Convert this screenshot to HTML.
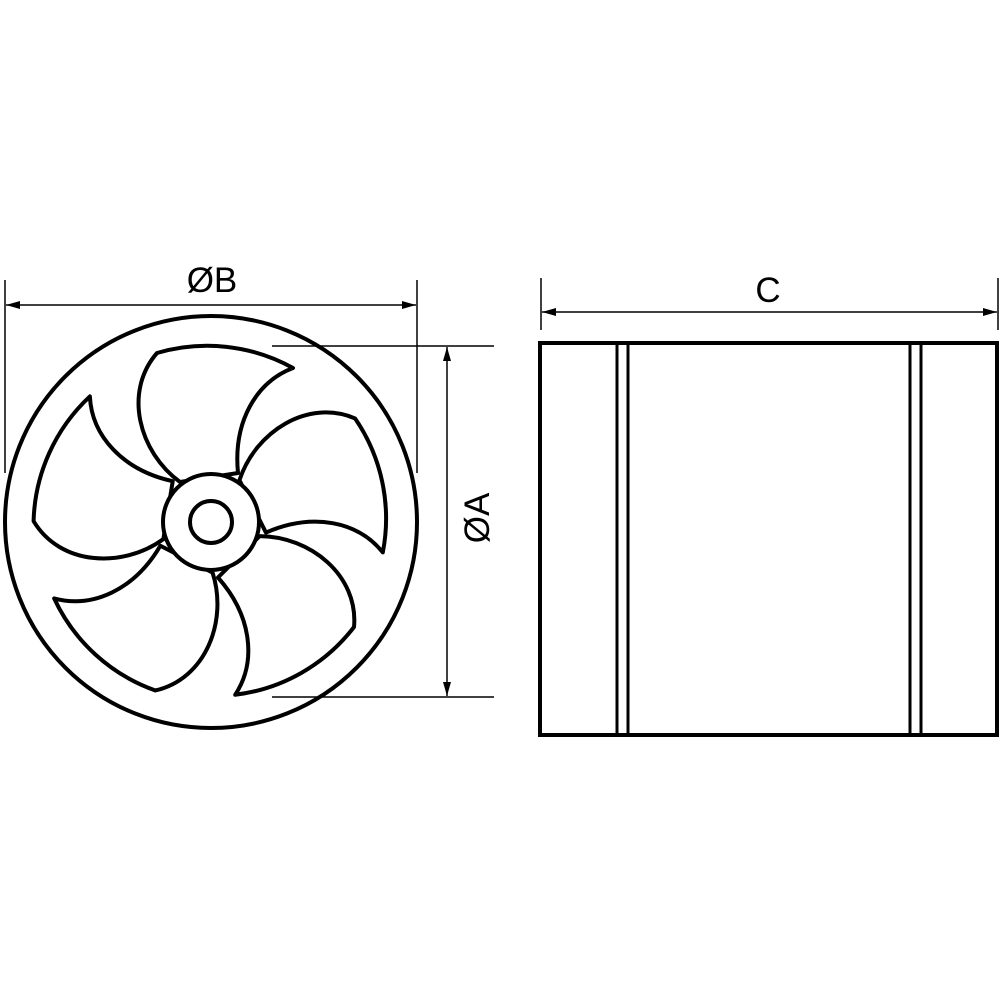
<!DOCTYPE html>
<html><head><meta charset="utf-8"><style>html,body{margin:0;padding:0;background:#fff}svg{display:block}</style></head>
<body>
<svg width="1000" height="1000" viewBox="0 0 1000 1000" xmlns="http://www.w3.org/2000/svg">
<defs>
<marker id="ar" viewBox="0 0 14 10" refX="14" refY="5" markerWidth="14" markerHeight="10" markerUnits="userSpaceOnUse" orient="auto-start-reverse"><path d="M0,1 L14,5 L0,9 Z" fill="#000"/></marker>
</defs>
<circle cx="211" cy="522" r="206" fill="none" stroke="#000" stroke-width="4"/>
<g transform="translate(211,522)" fill="#fff" stroke="#000" stroke-width="4" stroke-linejoin="round">
<g id="bl"><path d="M-31,-40 C-72,-70 -88,-130 -54,-169 A177 177 0 0 1 82,-154 C45,-140 22,-100 27,-49 Z"/></g>
<use href="#bl" transform="rotate(72)"/>
<use href="#bl" transform="rotate(144)"/>
<use href="#bl" transform="rotate(216)"/>
<use href="#bl" transform="rotate(288)"/>
<circle r="48"/>
<circle r="21"/>
</g>
<g stroke="#000" stroke-width="1.5" fill="none">
<line x1="5" y1="280" x2="5" y2="473"/>
<line x1="417" y1="280" x2="417" y2="473"/>
<line x1="6" y1="305" x2="416" y2="305" marker-start="url(#ar)" marker-end="url(#ar)"/>
<line x1="272" y1="346" x2="494" y2="346"/>
<line x1="272" y1="697" x2="494" y2="697"/>
<line x1="447" y1="347" x2="447" y2="696" marker-start="url(#ar)" marker-end="url(#ar)"/>
<line x1="541" y1="278" x2="541" y2="330"/>
<line x1="998" y1="278" x2="998" y2="330"/>
<line x1="542" y1="312" x2="997" y2="312" marker-start="url(#ar)" marker-end="url(#ar)"/>
</g>
<text x="212" y="292" font-family="Liberation Sans, sans-serif" font-size="35" text-anchor="middle">ØB</text>
<text transform="translate(489,518) rotate(-90)" font-family="Liberation Sans, sans-serif" font-size="35" text-anchor="middle">ØA</text>
<text x="768" y="302" font-family="Liberation Sans, sans-serif" font-size="35" text-anchor="middle">C</text>
<rect x="540" y="343" width="457" height="392" fill="none" stroke="#000" stroke-width="4"/>
<g stroke="#000" stroke-width="3">
<line x1="617" y1="343" x2="617" y2="735"/>
<line x1="628" y1="343" x2="628" y2="735"/>
<line x1="910" y1="343" x2="910" y2="735"/>
<line x1="921" y1="343" x2="921" y2="735"/>
</g>
</svg>
</body></html>
